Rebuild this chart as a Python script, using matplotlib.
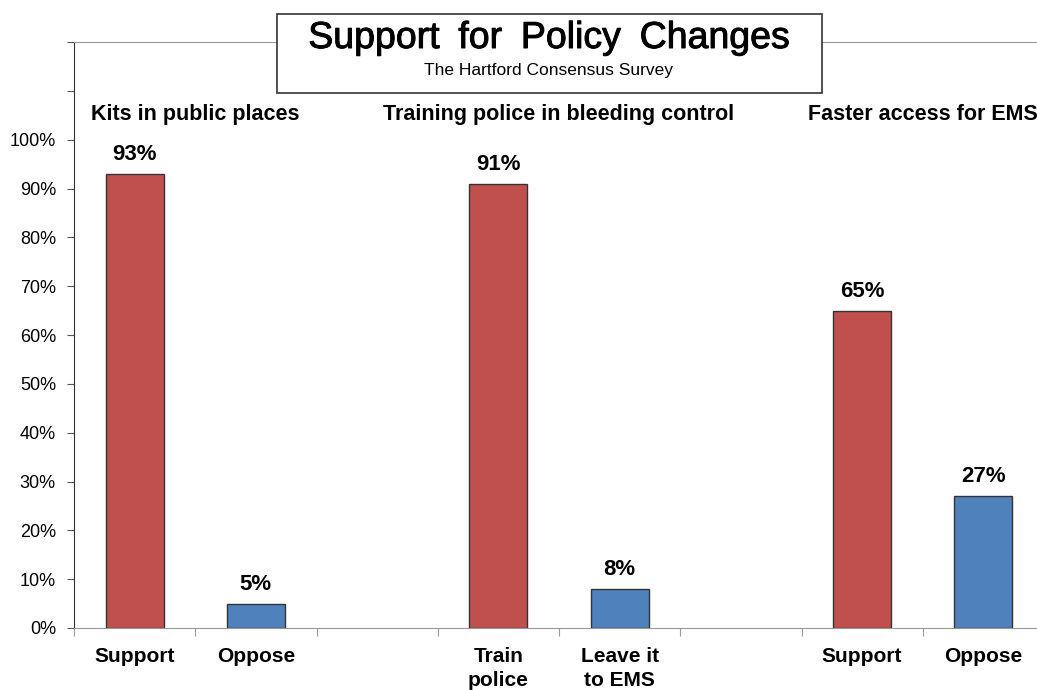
import matplotlib.pyplot as plt
import matplotlib.patheffects as pe
from matplotlib.patches import Rectangle

plt.rcParams['font.family'] = ['Liberation Sans', 'DejaVu Sans']

# data
categories = ['Support', 'Oppose', '', 'Train\npolice', 'Leave it\nto EMS', '', 'Support', 'Oppose']
values = [93, 5, None, 91, 8, None, 65, 27]
colors = ['#C0504D', '#4F81BD', None, '#C0504D', '#4F81BD', None, '#C0504D', '#4F81BD']
groups = ['Kits in public places', 'Training police in bleeding control', 'Faster access for EMS']
group_pos = [0.5, 3.5, 6.5]

fig = plt.figure(figsize=(10.37, 6.9), dpi=100)
ax = fig.add_axes([74 / 1037, 1 - 628 / 690, 970 / 1037, 586 / 690])

for i, (v, c) in enumerate(zip(values, colors)):
    if v is None:
        continue
    ax.bar(i, v, width=0.48, color=c, edgecolor='#333333', linewidth=1, zorder=2)
    ax.text(i, v + 1.8, f'{v}%', ha='center', va='bottom', fontsize=16, fontweight='bold')

for g, x in zip(groups, group_pos):
    ax.text(x, 103, g, ha='center', va='bottom', fontsize=15.5, fontweight='bold')

ax.set_xlim(-0.5, 7.5)
ax.set_ylim(0, 120)

# y ticks
ax.set_yticks(range(0, 121, 10))
ax.set_yticklabels([f'{t}%' if t <= 100 else '' for t in range(0, 121, 10)], fontsize=13)
ax.tick_params(axis='y', direction='out', length=5, color='#555555', pad=8)

# x: boundary ticks, labels at centers
ax.set_xticks([i - 0.5 for i in range(9)])
ax.set_xticklabels([])
ax.tick_params(axis='x', which='major', direction='out', length=6, color='#999999')
ax.set_xticks(range(8), minor=True)
ax.set_xticklabels(categories, minor=True, fontsize=15, fontweight='bold', linespacing=1.3)
ax.tick_params(axis='x', which='minor', length=0, pad=14)
for lab in ax.get_xticklabels(minor=True):
    lab.set_verticalalignment('top')

ax.spines['left'].set_color('#333333')
ax.spines['bottom'].set_color('#999999')
ax.spines['top'].set_color('#999999')
ax.spines['right'].set_visible(False)

# title box
box = Rectangle((277 / 1037, 1 - 93 / 690), 545 / 1037, 79 / 690, transform=fig.transFigure,
                facecolor='white', edgecolor='#333333', linewidth=1.2, zorder=5)
fig.patches.append(box)
fig.text(549 / 1037, 1 - 38 / 690, 'Support\u2002for\u2002Policy\u2002Changes', ha='center', va='center',
         fontsize=27, zorder=6,
         path_effects=[pe.withStroke(linewidth=0.7, foreground='black')])
fig.text(549 / 1037, 1 - 71 / 690, 'The Hartford Consensus Survey', ha='center', va='center',
         fontsize=12.5, zorder=6)

fig.savefig('out.png', dpi=100)
